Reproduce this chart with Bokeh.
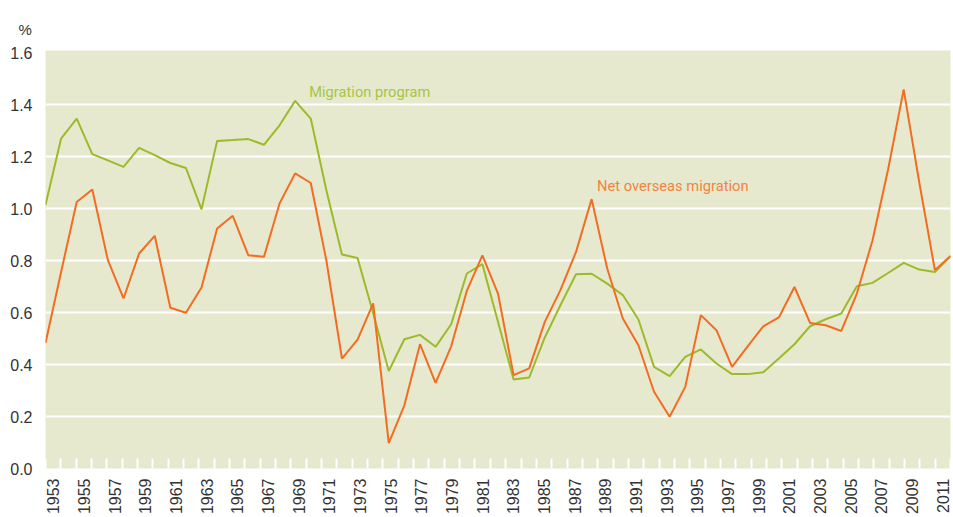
from math import pi
from bokeh.plotting import figure
from bokeh.models import Range1d, LinearAxis, FixedTicker, NumeralTickFormatter
from bokeh.core.properties import value
from bokeh.embed import file_html
from bokeh.resources import INLINE

years = list(range(1953, 2012))

migration_program = [
    1.013, 1.269, 1.346, 1.209, 1.185, 1.160, 1.233, 1.205, 1.175, 1.156,
    0.997, 1.260, 1.263, 1.267, 1.245, 1.320, 1.414, 1.346, 1.070, 0.823,
    0.810, 0.597, 0.375, 0.497, 0.514, 0.468, 0.555, 0.750, 0.786, 0.564,
    0.342, 0.350, 0.504, 0.628, 0.747, 0.749, 0.711, 0.667, 0.573, 0.391,
    0.355, 0.429, 0.458, 0.404, 0.363, 0.363, 0.370, 0.423, 0.478, 0.547,
    0.574, 0.596, 0.701, 0.714, 0.752, 0.791, 0.765, 0.756, 0.817,
]

net_overseas_migration = [
    0.483, 0.756, 1.025, 1.073, 0.801, 0.654, 0.827, 0.895, 0.618, 0.599,
    0.696, 0.923, 0.972, 0.820, 0.814, 1.019, 1.135, 1.098, 0.800, 0.423,
    0.496, 0.635, 0.098, 0.243, 0.478, 0.329, 0.470, 0.683, 0.820, 0.673,
    0.359, 0.385, 0.564, 0.686, 0.833, 1.036, 0.769, 0.577, 0.474, 0.295,
    0.199, 0.314, 0.590, 0.532, 0.391, 0.470, 0.547, 0.581, 0.698, 0.560,
    0.551, 0.529, 0.673, 0.877, 1.150, 1.458, 1.100, 0.763, 0.817,
]

y_ticks = [0.0, 0.2, 0.4, 0.6, 0.8, 1.0, 1.2, 1.4, 1.6]
grid_values = [0.2, 0.4, 0.6, 0.8, 1.0, 1.2, 1.4]
label_years = list(range(1953, 2012, 2))

BG = "#e6e9ce"
GREEN = "#9cba2c"
ORANGE = "#f26d21"
GREEN_TXT = "#a8c545"
ORANGE_TXT = "#f28441"
TXT = "#333333"

PX_PER_UNIT = 260.0
p = figure(width=953, height=517, output_backend="svg", toolbar_location=None,
           x_range=Range1d(years[0], years[-1]),
           y_range=Range1d(0, 418 / PX_PER_UNIT),
           x_axis_location=None,
           min_border_left=45, min_border_right=3,
           min_border_top=50, min_border_bottom=49)
p.outline_line_color = None
p.background_fill_color = BG
p.border_fill_color = "white"

p.title.text = "%"
p.title.align = "left"
p.title.offset = -27
p.title.standoff = 26
p.title.text_font = "Liberation Sans"
p.title.text_font_size = "15px"
p.title.text_font_style = "normal"
p.title.text_color = TXT

# category-band range used for the year labels and the white tick marks
p.extra_x_ranges = {"bands": Range1d(years[0] - 0.5, years[-1] + 0.5)}
xaxis = LinearAxis(x_range_name="bands",
                   ticker=FixedTicker(ticks=label_years,
                                      minor_ticks=[y - 0.5 for y in years] + [years[-1] + 0.5]))
xaxis.axis_line_color = None
xaxis.major_tick_line_color = None
xaxis.major_tick_in = 0
xaxis.major_tick_out = 0
xaxis.minor_tick_line_color = "white"
xaxis.minor_tick_line_width = 2
xaxis.minor_tick_in = 10
xaxis.minor_tick_out = 0
xaxis.major_label_orientation = pi / 2
xaxis.major_label_standoff = 10
xaxis.major_label_text_font = "Liberation Sans"
xaxis.major_label_text_font_size = "16px"
xaxis.major_label_text_color = TXT
p.add_layout(xaxis, "below")

p.yaxis.ticker = FixedTicker(ticks=y_ticks)
p.yaxis.formatter = NumeralTickFormatter(format="0.0")
p.yaxis.axis_line_color = None
p.yaxis.major_tick_line_color = None
p.yaxis.major_tick_in = 0
p.yaxis.major_tick_out = 0
p.yaxis.minor_tick_line_color = None
p.yaxis.minor_tick_in = 0
p.yaxis.minor_tick_out = 0
p.yaxis.major_label_standoff = 13
p.yaxis.major_label_text_font = "Liberation Sans"
p.yaxis.major_label_text_font_size = "16px"
p.yaxis.major_label_text_color = TXT

p.ygrid.ticker = FixedTicker(ticks=grid_values)
p.ygrid.grid_line_color = "white"
p.ygrid.grid_line_width = 2
p.xgrid.visible = False

p.line(years, migration_program, line_color=GREEN, line_width=2)
p.line(years, net_overseas_migration, line_color=ORANGE, line_width=2)

p.text(x=[1969.9], y=[1.449], text=["Migration program"],
       text_font=value("Roboto"), text_font_size="14.7px",
       text_color=GREEN_TXT, text_align="left", text_baseline="alphabetic")
p.text(x=[1988.34], y=[1.086], text=["Net overseas migration"],
       text_font=value("Roboto"), text_font_size="14.7px",
       text_color=ORANGE_TXT, text_align="left", text_baseline="alphabetic")

open("out.html", "w").write(file_html(p, INLINE))
